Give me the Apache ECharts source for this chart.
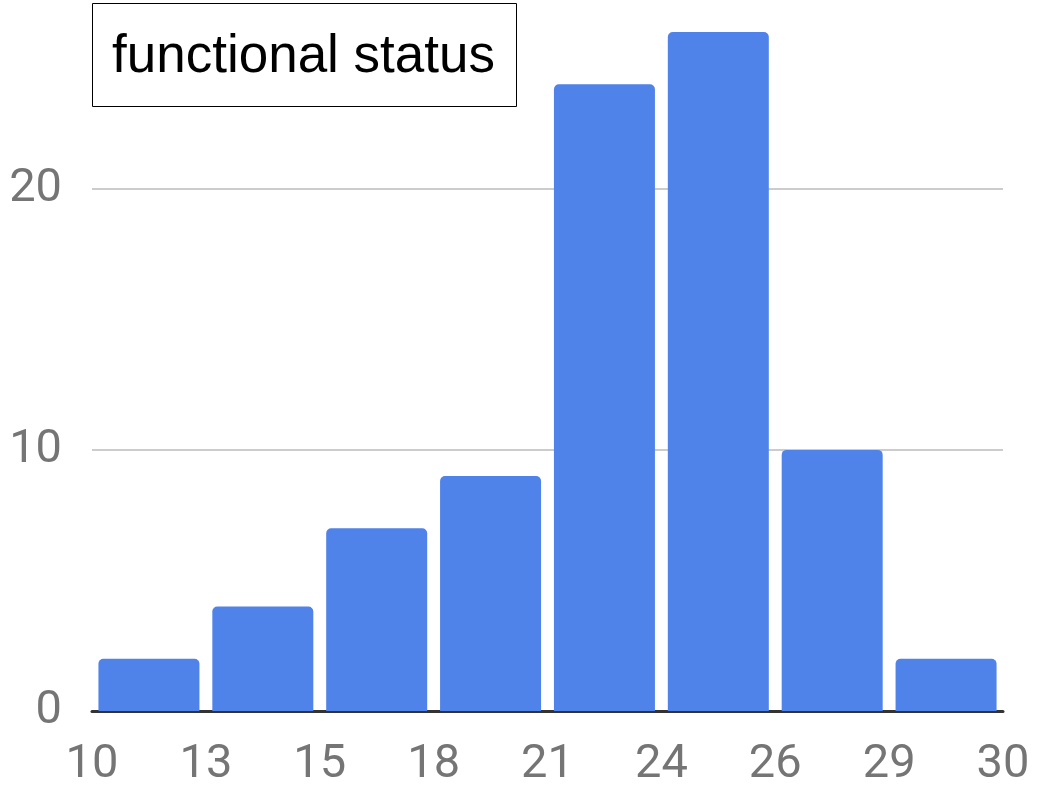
<!DOCTYPE html>
<html>
<head>
<meta charset="utf-8">
<script src="https://cdn.jsdelivr.net/npm/echarts@6/dist/echarts.min.js"></script>
<style>
html, body { margin: 0; padding: 0; background: #fff; }
#chart { width: 1041px; height: 789px; }
</style>
</head>
<body>
<div id="chart"></div>
<script>
// histogram bins: edge labels along the bottom, counts per bin
var binEdges = ['10', '13', '15', '18', '21', '24', '26', '29', '30'];
var binCounts = [2, 4, 7, 9, 24, 26, 10, 2];
var chartTitle = 'functional status';

// bar sits in the middle of its bin (bin i spans i..i+1 on the x axis)
var barData = binCounts.map(function (v, i) { return [i + 0.5, v]; });

var chart = echarts.init(document.getElementById('chart'));
chart.setOption({
  animation: false,
  title: {
    text: chartTitle,
    left: 92,
    top: 3,
    padding: [24, 22, 20, 20],
    borderColor: '#000',
    borderWidth: 1,
    backgroundColor: '#fff',
    textStyle: {
      fontFamily: 'Liberation Sans, Arial',
      fontWeight: 'normal',
      fontSize: 53,
      lineHeight: 60,
      color: '#000'
    },
    z: 10
  },
  grid: { left: 92, right: 38, top: 6, bottom: 76 },
  xAxis: {
    type: 'value',
    min: 0,
    max: binEdges.length - 1,
    interval: 1,
    axisLine: { show: true, lineStyle: { color: '#333', width: 3 } },
    axisTick: { show: false },
    splitLine: { show: false },
    axisLabel: {
      margin: 31,
      fontFamily: 'Roboto',
      fontSize: 47,
      color: '#757575',
      formatter: function (v) { return binEdges[Math.round(v)]; }
    }
  },
  yAxis: {
    type: 'value',
    min: 0,
    max: 27,
    interval: 10,
    axisLine: { show: false },
    axisTick: { show: false },
    splitLine: { show: true, showMinLine: false, showMaxLine: false, lineStyle: { color: '#cccccc', width: 2 } },
    axisLabel: {
      margin: 30,
      fontFamily: 'Roboto',
      fontSize: 47,
      color: '#757575',
      showMaxLabel: false,
      formatter: function (v) { return v % 10 === 0 ? v : ''; }
    }
  },
  series: [{
    type: 'bar',
    data: barData,
    barWidth: 101,
    itemStyle: { color: '#5083e9', borderRadius: [5, 5, 0, 0] },
    z: 3
  }]
});
</script>
</body>
</html>
